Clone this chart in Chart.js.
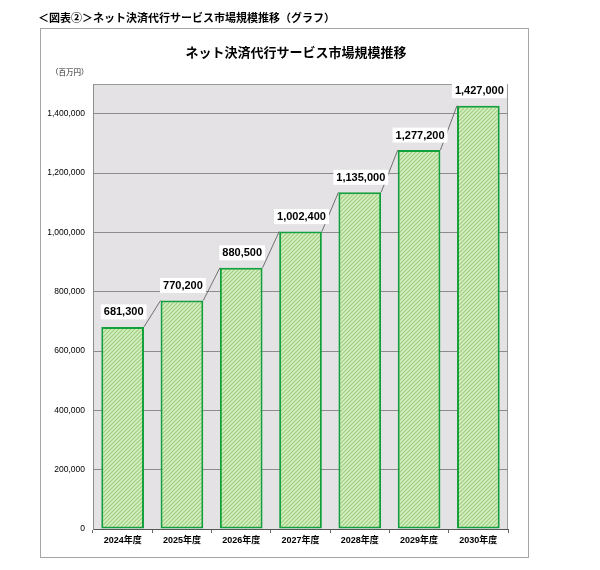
<!DOCTYPE html>
<html>
<head>
<meta charset="utf-8">
<script src="https://cdn.jsdelivr.net/npm/chart.js@4.4.1/dist/chart.umd.min.js"></script>
<style>
  html, body { margin: 0; padding: 0; background: #fff; width: 600px; height: 570px; overflow: hidden; }
  #frame { position: absolute; left: 40px; top: 28px; width: 489px; height: 530px; box-sizing: border-box; border: 1px solid #a6a6a6; }
  #wrap { position: absolute; left: 0; top: 0; width: 600px; height: 570px; }
  .txt { position: absolute; white-space: nowrap; color: #000; font-family: "Noto Sans CJK JP", "Liberation Sans", sans-serif; }
  #heading { left: 38px; top: 9px; font-size: 11px; font-weight: bold; line-height: 16px; }
  #title { left: 0; width: 592px; text-align: center; top: 43px; font-size: 13px; font-weight: bold; line-height: 18px; }
  #unit { left: 51px; top: 67px; font-size: 7.5px; line-height: 10px; color: #222; }
</style>
</head>
<body>
<div id="frame"></div>
<div id="wrap"><canvas id="c"></canvas></div>
<div class="txt" id="heading">＜図表②＞ネット決済代行サービス市場規模推移（グラフ）</div>
<div class="txt" id="title">ネット決済代行サービス市場規模推移</div>
<div class="txt" id="unit">（百万円）</div>
<script>
const categories = ["2024年度", "2025年度", "2026年度", "2027年度", "2028年度", "2029年度", "2030年度"];
const marketSize = [681300, 770200, 880500, 1002400, 1135000, 1277200, 1427000];
const yTickValues = [0, 200000, 400000, 600000, 800000, 1000000, 1200000, 1400000];
const yMax = 1500000;

function fmt(v) { return v.toLocaleString('en-US'); }

function makePattern() {
  const t = document.createElement('canvas');
  t.width = 4; t.height = 4;
  const g = t.getContext('2d');
  g.fillStyle = '#d8eec4';
  g.fillRect(0, 0, 4, 4);
  g.strokeStyle = '#9ccf7c';
  g.lineWidth = 1.2;
  g.beginPath();
  g.moveTo(0, 4); g.lineTo(4, 0);
  g.moveTo(-1, 1); g.lineTo(1, -1);
  g.moveTo(3, 5); g.lineTo(5, 3);
  g.stroke();
  return g.createPattern(t, 'repeat');
}

const plotBg = {
  id: 'plotBg',
  beforeDraw(chart) {
    const { ctx, chartArea: a } = chart;
    ctx.save();
    ctx.fillStyle = '#e4e2e4';
    ctx.fillRect(a.left, a.top, a.right - a.left, a.bottom - a.top);
    ctx.strokeStyle = '#9a9a9a';
    ctx.lineWidth = 1;
    ctx.beginPath();
    ctx.moveTo(a.left, a.top + 0.5);
    ctx.lineTo(a.right - 0.5, a.top + 0.5);
    ctx.lineTo(a.right - 0.5, a.bottom);
    ctx.stroke();
    ctx.restore();
  }
};

const seriesLinesAndLabels = {
  id: 'seriesLinesAndLabels',
  afterDatasetsDraw(chart) {
    const { ctx } = chart;
    const meta = chart.getDatasetMeta(0);
    const bars = meta.data;
    const vals = chart.data.datasets[0].data;
    ctx.save();
    ctx.strokeStyle = '#707070';
    ctx.lineWidth = 1;
    ctx.beginPath();
    for (let i = 0; i < bars.length - 1; i++) {
      const a = bars[i], b = bars[i + 1];
      ctx.moveTo(a.x + a.width / 2, a.y);
      ctx.lineTo(b.x - b.width / 2, b.y);
    }
    ctx.stroke();
    ctx.font = 'bold 11px "Liberation Sans", Arial, sans-serif';
    ctx.textAlign = 'center';
    ctx.textBaseline = 'middle';
    for (let i = 0; i < bars.length; i++) {
      const bar = bars[i];
      const txt = fmt(vals[i]);
      const w = ctx.measureText(txt).width + 6;
      const cx = bar.x + 1, cy = bar.y - 15;
      ctx.fillStyle = '#ffffff';
      ctx.fillRect(cx - w / 2, cy - 7.5, w, 15);
      ctx.fillStyle = '#000';
      ctx.fillText(txt, cx, cy + 0.5);
    }
    ctx.restore();
  }
};

new Chart(document.getElementById('c'), {
  type: 'bar',
  data: {
    labels: categories,
    datasets: [{
      data: marketSize,
      backgroundColor: makePattern(),
      borderColor: '#12a03a',
      borderWidth: 2,
      borderSkipped: false,
      categoryPercentage: 1,
      barPercentage: 0.72
    }]
  },
  options: {
    responsive: true,
    maintainAspectRatio: false,
    devicePixelRatio: 1,
    animation: false,
    layout: { padding: { left: 0, right: 92, top: 84, bottom: 0 } },
    plugins: { legend: { display: false }, title: { display: false }, tooltip: { enabled: false } },
    scales: {
      x: {
        grid: { offset: true, drawOnChartArea: false, tickLength: 4, color: '#666' },
        border: { color: '#555', width: 1 },
        ticks: { padding: 2, color: '#000', font: { size: 9, weight: 'bold', family: '"Liberation Sans", "Noto Sans CJK JP", sans-serif' } },
        afterFit(s) { s.height = 41; }
      },
      y: {
        min: 0,
        max: yMax,
        afterBuildTicks(s) { s.ticks = yTickValues.map(v => ({ value: v })); },
        grid: { color: '#8c8c8c', lineWidth: 1, drawTicks: false },
        border: { color: '#8c8c8c', width: 1 },
        ticks: { padding: 8, color: '#000', font: { size: 8.5, family: '"Liberation Sans", Arial, sans-serif' }, callback: v => fmt(v) },
        afterFit(s) { s.width = 93; }
      }
    }
  },
  plugins: [plotBg, seriesLinesAndLabels]
});
</script>
</body>
</html>
